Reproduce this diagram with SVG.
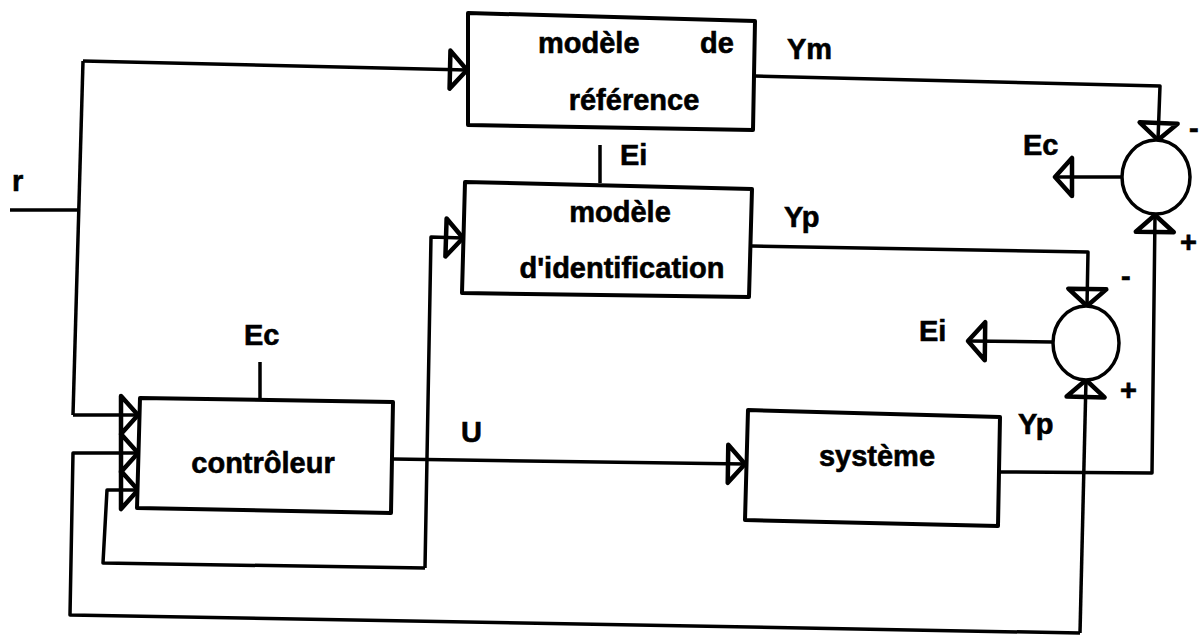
<svg xmlns="http://www.w3.org/2000/svg" width="1200" height="635" viewBox="0 0 1200 635">
  <style>
    .box { fill: #fff; stroke: #000; stroke-width: 4; stroke-linejoin: round; }
    .sum { fill: #fff; stroke: #000; stroke-width: 3.5; }
    .wire { fill: none; stroke: #000; stroke-width: 3.5; stroke-linejoin: round; }
    .arr { marker-end: url(#open); }
    text { font-family: "Liberation Sans", Arial, sans-serif; font-weight: bold; font-size: 29px; fill: #000; stroke: #000; stroke-width: 0.6; }
    .in { text-anchor: middle; }
  </style>
  <defs>
    <!-- open triangular head, the wire runs through to the tip -->
    <marker id="open" markerUnits="userSpaceOnUse" viewBox="-3 -3 24 44" markerWidth="24" markerHeight="44" refX="17" refY="19" orient="auto">
      <path d="M0,0 L17,19 L0,38 Z" fill="none" stroke="#000" stroke-width="4.5" stroke-linejoin="round"/>
    </marker>
  </defs>

  <g id="connectors">
    <!-- reference input r -->
    <path class="wire" d="M10,210 L78,210"/>
    <path class="wire" d="M83,61 L73,415"/>
    <path class="wire arr" d="M83,61 L467,70"/>
    <path class="wire arr" d="M73,415 L138,415"/>
    <!-- reference model output Ym to comparator 1 -->
    <path class="wire arr" d="M755,76 L1160,86 L1158,140"/>
    <!-- comparator 1 output Ec -->
    <path class="wire arr" d="M1122,177 L1055,177"/>
    <!-- identification model output Yp to comparator 2 -->
    <path class="wire arr" d="M752,246 L1088,252 L1087,306"/>
    <!-- comparator 2 output Ei -->
    <path class="wire arr" d="M1053,342 L968,341"/>
    <!-- controller output U -->
    <path class="wire arr" d="M393,459 L745,464"/>
    <!-- U branch to identification model and back to controller -->
    <path class="wire arr" d="M425,568 L431,237 L463,238"/>
    <path class="wire arr" d="M425,568 L103,563 L107,490 L138,490"/>
    <!-- plant output Yp -->
    <path class="wire arr" d="M1000,472 L1152,473 L1155,215"/>
    <path class="wire arr" d="M1080,633 L1086,380"/>
    <path class="wire arr" d="M1080,633 L70,615 L73,453 L138,453"/>
    <!-- adaptation signal stubs -->
    <path class="wire" d="M260,362 L260,398"/>
    <path class="wire" d="M600,145 L600,183"/>
  </g>

  <g id="reference-model">
    <path class="box" d="M468,13 L755,21 L753,130 L468,125 Z"/>
    <text x="538" y="53">modèle</text>
    <text x="700" y="53">de</text>
    <text class="in" x="634" y="110">référence</text>
  </g>

  <g id="identification-model">
    <path class="box" d="M465,182 L752,189 L749,297 L462,293 Z"/>
    <text class="in" x="620" y="222">modèle</text>
    <text class="in" x="622" y="278">d'identification</text>
  </g>

  <g id="controller">
    <path class="box" d="M140,398 L393,402 L391,513 L137,508 Z"/>
    <text class="in" x="263" y="473">contrôleur</text>
  </g>

  <g id="plant">
    <path class="box" d="M748,410 L1000,417 L998,526 L745,520 Z"/>
    <text class="in" x="877" y="466">système</text>
  </g>

  <g id="comparator-1">
    <ellipse class="sum" cx="1156" cy="177" rx="34" ry="37"/>
    <text x="1189" y="138">-</text>
    <text x="1180" y="252">+</text>
  </g>

  <g id="comparator-2">
    <ellipse class="sum" cx="1086" cy="343" rx="33" ry="37"/>
    <text x="1121" y="286">-</text>
    <text x="1120" y="400">+</text>
  </g>

  <g id="labels">
    <text x="12" y="191">r</text>
    <text x="787" y="59">Ym</text>
    <text x="620" y="165">Ei</text>
    <text x="784" y="227">Yp</text>
    <text x="1023" y="155">Ec</text>
    <text x="919" y="341">Ei</text>
    <text x="244" y="345">Ec</text>
    <text x="461" y="442">U</text>
    <text x="1018" y="434">Yp</text>
  </g>
</svg>
